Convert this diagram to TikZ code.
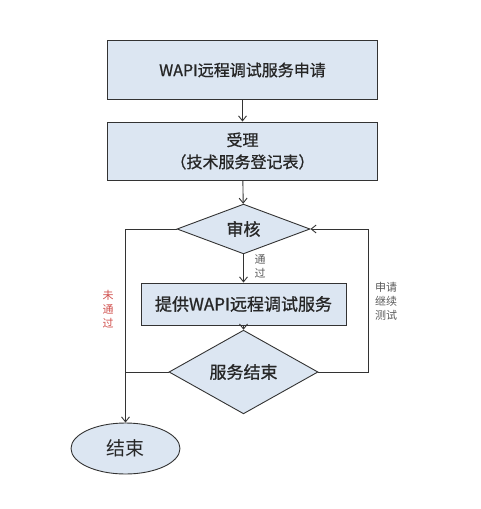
\documentclass[tikz,border=0pt]{standalone}
\usepackage{fontspec}
\setmainfont{Noto Sans CJK SC}
\newfontfamily\boldcjk{Noto Sans CJK SC}[FakeBold=0.9]
\usetikzlibrary{shapes.geometric,arrows.meta}
\definecolor{boxfill}{HTML}{DCE6F2}
\definecolor{lineclr}{HTML}{333333}
\definecolor{redlbl}{HTML}{D0504D}
\definecolor{graylbl}{HTML}{5A5A5A}
\begin{document}
\begin{tikzpicture}[x=1pt,y=-1pt,
  every path/.style={line width=0.9pt},
  procbox/.style={draw=lineclr,fill=boxfill,rectangle,inner sep=0pt,font=\boldcjk\fontsize{16}{22}\selectfont,text=black!85,align=center},
  decbox/.style={draw=lineclr,fill=boxfill,diamond,inner sep=0pt,font=\boldcjk\fontsize{17}{20}\selectfont,text=black!85},
  endbox/.style={draw=lineclr,fill=boxfill,ellipse,inner sep=0pt,font=\fontsize{19}{22}\selectfont,text=black!85},
  conn/.style={draw=lineclr,-{Straight Barb[length=5pt,width=8pt]}},
  plain/.style={draw=lineclr},
  small/.style={font=\fontsize{11}{14}\selectfont,align=center,inner sep=0pt}
]
\useasboundingbox (0,0) rectangle (480,509);
\node[procbox,minimum width=270pt,minimum height=59pt] (b1) at (242.5,70) {WAPI远程调试服务申请};
\node[procbox,minimum width=270pt,minimum height=58pt] (b2) at (242.5,151) {受理\\（技术服务登记表）};
\node[decbox,minimum width=133pt,minimum height=48pt] (d1) at (243.5,229) {审核};
\node[procbox,minimum width=205pt,minimum height=42pt,font=\boldcjk\fontsize{17}{20}\selectfont] (b3) at (243.5,304) {提供WAPI远程调试服务};
\node[decbox,minimum width=149pt,minimum height=51pt] (d2) at (243.5,372) {服务结束};
\node[endbox,minimum width=109pt,minimum height=51pt] (e) at (125.5,448.5) {结束};
\coordinate (cR) at (368,372);

\draw[conn] (b1) -- (b2);
\draw[conn] (b2) -- (d1);
\draw[conn] (d1) -- (b3);
\draw[conn] (b3) -- (d2);
\draw[conn] (d1.west) -| (e.north);
\draw[plain] (d2.west) -- (d2.west -| e.north);
\draw[conn] (d2.east) -- (cR) -- (cR |- d1.east) -- (d1.east);

\node[small,text=graylbl] (l1) at (260,266.5) {通\\过};
\node[small,text=redlbl] (l2) at (108,309) {未\\通\\过};
\node[small,text=graylbl] (l3) at (386,301) {申请\\继续\\测试};
\end{tikzpicture}
\end{document}
